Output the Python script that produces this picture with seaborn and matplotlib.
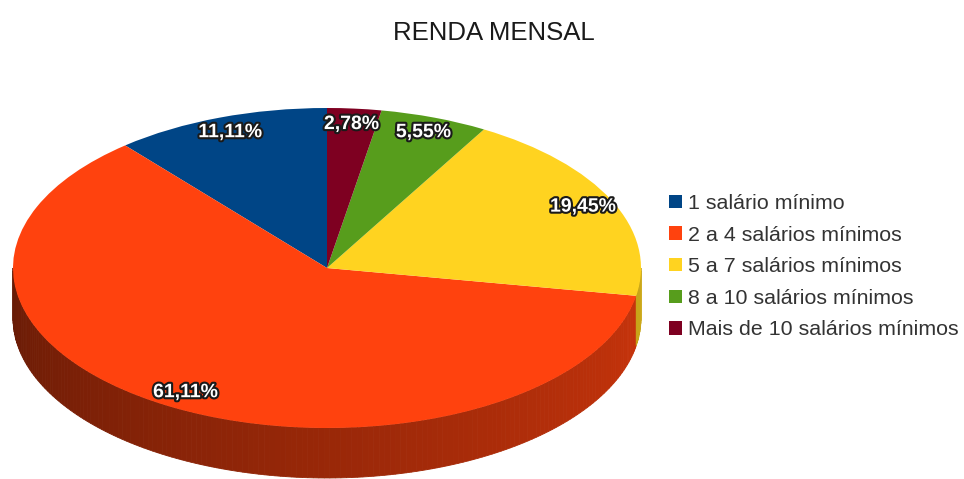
import numpy as np
import matplotlib
matplotlib.use("Agg")
import matplotlib.pyplot as plt
import matplotlib.patheffects as pe
from matplotlib.patches import Patch
import seaborn as sns

# data (percent of respondents)
categories = [
    "1 salário mínimo",
    "2 a 4 salários mínimos",
    "5 a 7 salários mínimos",
    "8 a 10 salários mínimos",
    "Mais de 10 salários mínimos",
]
values = [11.11, 61.11, 19.45, 5.55, 2.78]
title = "RENDA MENSAL"

sns.set_theme(style="white")
plt.rcParams["font.family"] = ["Liberation Sans", "DejaVu Sans"]

colors = sns.color_palette(["#004586", "#ff420e", "#ffd320", "#579d1c", "#7e0021"])

W, H = 964, 479
fig = plt.figure(figsize=(W / 100, H / 100), dpi=100)
ax = fig.add_axes([0, 0, 1, 1])

# pie geometry in pixels
cx, cy = 327, 268
rx, ry = 314, 160
depth = 50 / ry

# side wall (front half of the disc), drawn before the top face
start = 90.0
fracs = np.array(values) / sum(values)
bounds = start + 360 * np.concatenate([[0], np.cumsum(fracs)])
for i, col in enumerate(colors):
    a0, a1 = bounds[i], bounds[i + 1]
    for off in (0, 360, -360):
        lo = max(a0 + off, 180)
        hi = min(a1 + off, 360)
        if hi <= lo:
            continue
        steps = np.linspace(lo, hi, max(int(hi - lo), 1) + 1)
        for t0, t1 in zip(steps[:-1], steps[1:]):
            shade = 0.4 + 0.4 * ((t0 + t1) / 2 - 180) / 180
            c = tuple(np.clip(np.array(col) * shade, 0, 1))
            r0, r1 = np.radians(t0), np.radians(t1)
            xs = [np.cos(r0), np.cos(r1), np.cos(r1), np.cos(r0)]
            ys = [np.sin(r0), np.sin(r1), np.sin(r1) - depth, np.sin(r0) - depth]
            ax.fill(xs, ys, color=c, lw=0.6, ec=c)

wedges, texts, autotexts = ax.pie(
    values,
    colors=colors,
    startangle=90,
    counterclock=True,
    radius=1,
    pctdistance=0.9,
    autopct=lambda p: f"{p:.2f}%".replace(".", ","),
    wedgeprops=dict(linewidth=0),
    textprops=dict(color="white", fontsize=14, fontweight="bold",
                   family="Liberation Sans"),
)
for t in autotexts:
    t.set_path_effects([pe.withStroke(linewidth=3, foreground="#1a1a1a")])

ax.set_aspect("auto")
ax.set_xlim(-cx / rx, (W - cx) / rx)
ax.set_ylim(-(H - cy) / ry, cy / ry)
ax.axis("off")

fig.text(494 / W, 1 - 33 / H, title, ha="center", va="center",
         fontsize=18.5, color="#1a1a1a")

handles = [Patch(facecolor=c, edgecolor="none") for c in colors]
fig.legend(handles, categories, loc="upper left",
           bbox_to_anchor=(669 / W, 1 - 194 / H), frameon=False,
           fontsize=15.4, handlelength=0.6, handleheight=0.6,
           handletextpad=0.3, labelspacing=0.59, borderpad=0,
           borderaxespad=0, labelcolor="#333333")

fig.savefig("out.png", dpi=100)
